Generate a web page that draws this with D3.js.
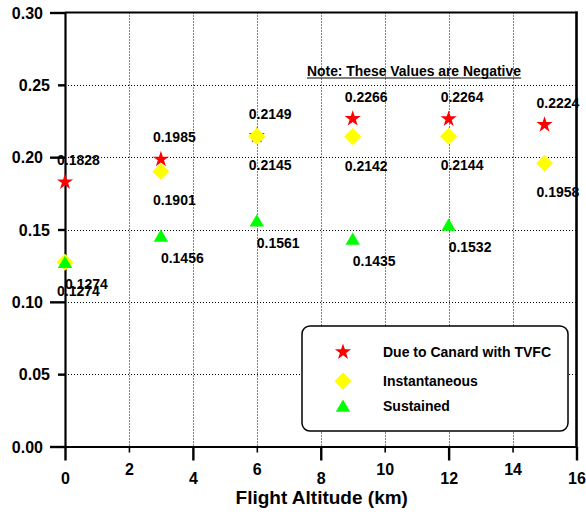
<!DOCTYPE html>
<html>
<head>
<meta charset="utf-8">
<script src="https://cdn.jsdelivr.net/npm/d3@7/dist/d3.min.js"></script>
<style>
  html, body { margin: 0; padding: 0; background: #fff; }
  svg { display: block; font-family: "Liberation Sans", Arial, sans-serif; font-weight: bold; }
</style>
</head>
<body>
<svg id="chart" width="586" height="514"></svg>
<script>
// Flight altitude (km) at which each value was evaluated
const altitudes = [0, 3, 6, 9, 12, 15];
// Series values (magnitudes; the actual values are negative)
const canardTVFC    = [0.1828, 0.1985, 0.2149, 0.2266, 0.2264, 0.2224];
const instantaneous = [0.1274, 0.1901, 0.2145, 0.2142, 0.2144, 0.1958];
const sustained     = [0.1274, 0.1456, 0.1561, 0.1435, 0.1532, null];
// Axis ticks
const xTicks = [0, 2, 4, 6, 8, 10, 12, 14, 16];
const yTicks = [0.00, 0.05, 0.10, 0.15, 0.20, 0.25, 0.30];
const seriesNames = ["Due to Canard with TVFC", "Instantaneous", "Sustained"];

const svg = d3.select("#chart");
const plotLeft = 65, plotRight = 576.5, plotTop = 12.5, plotBottom = 446.5;

const x = d3.scaleLinear().domain([0, 16]).range([plotLeft, plotRight]);
const y = d3.scaleLinear().domain([0, 0.30]).range([plotBottom, plotTop]);

// Dotted grid
const grid = svg.append("g").attr("stroke", "#000").attr("stroke-width", 1)
  .attr("stroke-dasharray", "1,2").attr("fill", "none");
grid.selectAll("line.v").data(xTicks.filter(t => t > 0 && t < 16)).join("line")
  .attr("class", "v")
  .attr("x1", d => Math.round(x(d)) + 0.5).attr("x2", d => Math.round(x(d)) + 0.5)
  .attr("y1", plotTop).attr("y2", plotBottom);
grid.selectAll("line.h").data(yTicks.filter(t => t > 0 && t < 0.3)).join("line")
  .attr("class", "h")
  .attr("y1", d => Math.round(y(d)) + 0.5).attr("y2", d => Math.round(y(d)) + 0.5)
  .attr("x1", plotLeft).attr("x2", plotRight);

// Frame: top and right borders
svg.append("line").attr("x1", plotLeft).attr("x2", plotRight + 1).attr("y1", plotTop).attr("y2", plotTop)
  .attr("stroke", "#000").attr("stroke-width", 1.8);
svg.append("line").attr("x1", plotRight).attr("x2", plotRight).attr("y1", plotTop - 1).attr("y2", plotBottom)
  .attr("stroke", "#000").attr("stroke-width", 2.6);

// X axis with alternating long/short ticks and staggered labels
const isMajorX = (d, i) => i % 2 === 0;
const xAxis = svg.append("g").attr("transform", `translate(0,${plotBottom})`)
  .call(d3.axisBottom(x).tickValues(xTicks).tickSize(0).tickFormat(d3.format("d")));
xAxis.select(".domain").attr("stroke", "#000").attr("stroke-width", 2.2);
xAxis.selectAll(".tick line")
  .attr("y2", (d, i) => isMajorX(d, i) ? 14 : 6)
  .attr("stroke", "#000").attr("stroke-width", (d, i) => isMajorX(d, i) ? 2.4 : 1.6);
xAxis.selectAll(".tick text")
  .attr("y", (d, i) => isMajorX(d, i) ? 26 : 17)
  .attr("dy", "0.71em")
  .attr("fill", "#000").attr("font-size", 16).attr("font-weight", "bold")
  .attr("font-family", "Liberation Sans, Arial, sans-serif");

// Y axis with alternating long/short ticks
const isMajorY = (d, i) => i % 2 === 0;
const yAxis = svg.append("g").attr("transform", `translate(${plotLeft},0)`)
  .call(d3.axisLeft(y).tickValues(yTicks).tickSize(0).tickFormat(d3.format(".2f")));
yAxis.select(".domain").attr("stroke", "#000").attr("stroke-width", 2.2);
yAxis.selectAll(".tick line")
  .attr("x2", (d, i) => isMajorY(d, i) ? -15 : -7)
  .attr("stroke", "#000").attr("stroke-width", 2.4);
yAxis.selectAll(".tick text")
  .attr("x", (d, i) => isMajorY(d, i) ? -22 : -15)
  .attr("dy", "0.36em")
  .attr("fill", "#000").attr("font-size", 16).attr("font-weight", "bold")
  .attr("font-family", "Liberation Sans, Arial, sans-serif");

// Axis title
svg.append("text").attr("x", (plotLeft + plotRight) / 2 + 1).attr("y", 504)
  .attr("text-anchor", "middle").attr("font-size", 19).text("Flight Altitude (km)");

// Marker shapes
const starPath = d3.symbol().type(d3.symbolStar).size(82)();
const diamondPath = "M0,-8.5L8.5,0L0,8.5L-8.5,0Z";
const trianglePath = "M0,-6.5L7.2,5.8L-7.2,5.8Z";

const series = [
  { name: seriesNames[0], values: canardTVFC, path: starPath, color: "#ff0000", dx: -8, dy: -17 },
  { name: seriesNames[1], values: instantaneous, path: diamondPath, color: "#ffff00", dx: -8, dy: 34 },
  { name: seriesNames[2], values: sustained, path: trianglePath, color: "#00ff00", dx: 0, dy: 27 }
];

// Markers
series.forEach(s => {
  const pts = altitudes.map((a, i) => ({ a, v: s.values[i] })).filter(p => p.v != null);
  svg.append("g").selectAll("path").data(pts).join("path")
    .attr("d", s.path)
    .attr("transform", p => `translate(${x(p.a)},${y(p.v)})`)
    .attr("fill", s.color);
});

// Value labels
series.forEach(s => {
  const pts = altitudes.map((a, i) => ({ a, v: s.values[i] })).filter(p => p.v != null);
  svg.append("g").selectAll("text").data(pts).join("text")
    .attr("x", p => x(p.a) + s.dx)
    .attr("y", p => y(p.v) + s.dy)
    .attr("font-size", 14).attr("fill", "#000")
    .text(p => d3.format(".4f")(p.v));
});

// Note
const note = svg.append("text").attr("x", 307).attr("y", 76)
  .attr("font-size", 13.9).attr("fill", "#000")
  .text("Note: These Values are Negative");
const nb = note.node().getBBox();
svg.append("line").attr("x1", nb.x).attr("x2", nb.x + nb.width)
  .attr("y1", 78).attr("y2", 78).attr("stroke", "#000").attr("stroke-width", 1.2);

// Legend
const legend = svg.append("g");
legend.append("rect").attr("x", 302).attr("y", 326).attr("width", 266).attr("height", 105)
  .attr("rx", 8).attr("ry", 8).attr("fill", "#fff").attr("stroke", "#000").attr("stroke-width", 1.5);
const legendRows = [352, 381, 406];
series.forEach((s, i) => {
  legend.append("path").attr("d", s.path)
    .attr("transform", `translate(343,${legendRows[i]})`).attr("fill", s.color);
  legend.append("text").attr("x", 383).attr("y", legendRows[i] + 5)
    .attr("font-size", 14).attr("fill", "#000").text(s.name);
});
</script>
</body>
</html>
